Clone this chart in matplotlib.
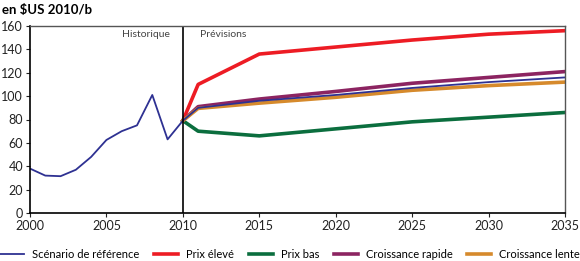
import numpy as np
import matplotlib.pyplot as plt

plt.rcParams['font.family'] = ['Lato', 'DejaVu Sans']

hist_years = [2000, 2001, 2002, 2003, 2004, 2005, 2006, 2007, 2008, 2009, 2010]
hist_vals = [38, 32, 31.5, 37, 48, 62.5, 70, 75, 101, 63, 79]

proj_years = [2010, 2011, 2015, 2020, 2025, 2030, 2035]
reference = [79, 90, 96, 101, 107, 112, 116]
high = [79, 110, 136, 142, 148, 153, 156]
low = [79, 70, 66, 72, 78, 82, 86]
fast = [79, 91, 97.5, 104, 111, 116, 121]
slow = [79, 89.5, 94, 99, 105, 109, 112]

c_ref = '#2e3192'
c_high = '#ed1c24'
c_low = '#0b6e3e'
c_fast = '#8c2461'
c_slow = '#d68a2c'

fig = plt.figure(figsize=(5.8, 2.61), dpi=100)
ax = fig.add_axes([30/580, 1-213/261, 535/580, 187/261])

ax.plot(proj_years, high, color=c_high, lw=2.6, label='Prix élevé')
ax.plot(proj_years, low, color=c_low, lw=2.6, label='Prix bas')
ax.plot(proj_years, fast, color=c_fast, lw=2.6, label='Croissance rapide')
ax.plot(proj_years, slow, color=c_slow, lw=2.6, label='Croissance lente')
ax.plot(proj_years, reference, color=c_ref, lw=1.3)
ax.plot(hist_years, hist_vals, color=c_ref, lw=1.3, label='Scénario de référence')
ax.axvline(2010, color='black', lw=1.2)

ax.set_xlim(2000, 2035)
ax.set_ylim(0, 160)
ax.set_xticks(range(2000, 2036, 5))
ax.set_yticks(range(0, 161, 20))
ax.tick_params(labelsize=9, colors='#222222', length=3, width=0.8, pad=2)
for s in ['left', 'bottom']:
    ax.spines[s].set_color('black')
    ax.spines[s].set_linewidth(1.2)
for s in ['top', 'right']:
    ax.spines[s].set_color('#555555')
    ax.spines[s].set_linewidth(1.0)

ax.text(2007.6, 153, 'Historique', ha='center', va='center', fontsize=7.5, color='#444444')
ax.text(2011.1, 153, 'Prévisions', ha='left', va='center', fontsize=7.5, color='#444444')
fig.text(2/580, 1-10/261, 'en $US 2010/b', fontsize=9.5, fontweight='bold', va='center', ha='left')

h, l = ax.get_legend_handles_labels()
order = [4, 0, 1, 2, 3]
leg = fig.legend([h[i] for i in order], [l[i] for i in order], loc='center',
                 bbox_to_anchor=(0.5, 1-254/261), ncol=5, frameon=False,
                 fontsize=8, handlelength=2.2, columnspacing=1.3, handletextpad=0.7,
                 borderaxespad=0, borderpad=0)

fig.savefig('out.png', dpi=100)
